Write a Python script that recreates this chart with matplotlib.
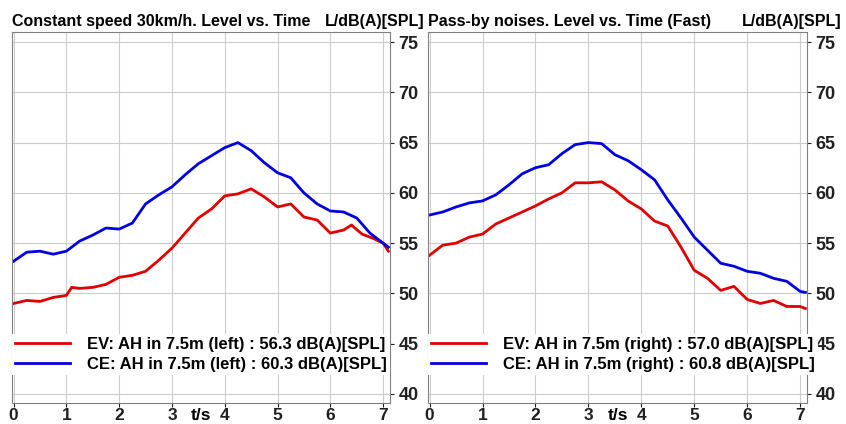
import matplotlib
matplotlib.use("Agg")
import matplotlib.pyplot as plt
import numpy as np

t_l = [0,0.25,0.5,0.75,1.0,1.1,1.25,1.5,1.75,2.0,2.25,2.5,2.75,3.0,3.25,3.5,3.75,4.0,4.25,4.5,4.75,5.0,5.25,5.5,5.75,6.0,6.25,6.4,6.6,6.8,7.0,7.1]
ev_l = [49.0,49.3,49.2,49.6,49.8,50.6,50.5,50.6,50.9,51.6,51.8,52.2,53.3,54.5,56.0,57.5,58.4,59.7,59.9,60.4,59.6,58.6,58.9,57.6,57.3,56.0,56.3,56.8,55.9,55.5,55.0,54.2]
t_b = [0,0.25,0.5,0.75,1.0,1.25,1.5,1.75,2.0,2.25,2.5,2.75,3.0,3.25,3.5,3.75,4.0,4.25,4.5,4.75,5.0,5.25,5.5,5.75,6.0,6.25,6.5,6.75,7.0,7.1]
ce_l = [53.2,54.1,54.2,53.9,54.2,55.2,55.8,56.5,56.4,57.0,58.9,59.8,60.6,61.8,62.9,63.7,64.5,65.0,64.2,63.0,62.0,61.5,60.0,58.9,58.2,58.1,57.5,56.0,55.0,54.6]
ev_r = [53.8,54.8,55.0,55.6,55.9,56.9,57.5,58.1,58.7,59.4,60.0,61.0,61.0,61.1,60.3,59.2,58.4,57.2,56.7,54.6,52.3,51.5,50.3,50.7,49.4,49.0,49.3,48.7,48.7,48.5]
ce_r = [57.8,58.1,58.6,59.0,59.2,59.8,60.8,61.9,62.5,62.8,63.9,64.8,65.0,64.9,63.8,63.2,62.3,61.3,59.3,57.5,55.6,54.3,53.0,52.7,52.2,52.0,51.5,51.2,50.2,50.1]

titles = ["Constant speed 30km/h. Level vs. Time", "Pass-by noises. Level vs. Time (Fast)"]
ylabel = "L/dB(A)[SPL]"
leg_l = ["EV: AH in 7.5m (left) : 56.3 dB(A)[SPL]", "CE: AH in 7.5m (left) : 60.3 dB(A)[SPL]"]
leg_r = ["EV: AH in 7.5m (right) : 57.0 dB(A)[SPL]", "CE: AH in 7.5m (right) : 60.8 dB(A)[SPL]"]
xticks = [0,1,2,3,4,5,6,7]
yticks = [40,45,50,55,60,65,70,75]

plt.rcParams['font.family'] = ['Liberation Sans', 'DejaVu Sans']
plt.rcParams['font.weight'] = 'bold'
W, H = 846, 424
fig = plt.figure(figsize=(W/100, H/100), dpi=100)

panels = [
    (12, 390, t_l, ev_l, t_b, ce_l, leg_l, titles[0]),
    (428, 807, t_b, ev_r, t_b, ce_r, leg_r, titles[1]),
]
for x0, x1, te, ev, tc, ce, leg, title in panels:
    ax = fig.add_axes([x0/W, 21/H, (x1-x0)/W, 371/H])
    ax.plot(te, ev, color='#e00000', lw=2, label=leg[0])
    ax.plot(tc, ce, color='#0000e0', lw=2, label=leg[1])
    ax.set_xlim(-0.03, 7.13)
    ax.set_ylim(39.1, 76.0)
    ax.set_xticks(xticks)
    ax.set_yticks(yticks)
    ax.grid(True, color='#cccccc', lw=0.8)
    ax.yaxis.tick_right()
    ax.tick_params(axis='y', labelsize=13, length=3, pad=3, colors='#202020')
    ax.tick_params(axis='x', labelsize=12.5, length=3, pad=0.5, colors='#202020')
    for s in ax.spines.values():
        s.set_color('#808080')
    ax.text(0.5, -0.013, "t/s", transform=ax.transAxes, ha='center', va='top', fontsize=12.5, fontweight='bold')
    ax.text(0.0, 1.008, title, transform=ax.transAxes, ha='left', va='bottom', fontsize=11.5, fontweight='bold')
    ax.text(1.09, 1.008, ylabel, transform=ax.transAxes, ha='right', va='bottom', fontsize=11.5, fontweight='bold',
            bbox=dict(facecolor='white', edgecolor='none', pad=0.5), zorder=10)
    lg = ax.legend(loc='lower left', bbox_to_anchor=(0.0, 0.075), frameon=True, fontsize=12,
                   handlelength=3.3, borderpad=0.2, labelspacing=0.3, borderaxespad=0.0, handletextpad=1.0)
    lg.get_frame().set_edgecolor('none')
    lg.get_frame().set_alpha(1.0)
    lg.get_frame().set_boxstyle('square', pad=0.0)

fig.savefig("out.png", dpi=100)
